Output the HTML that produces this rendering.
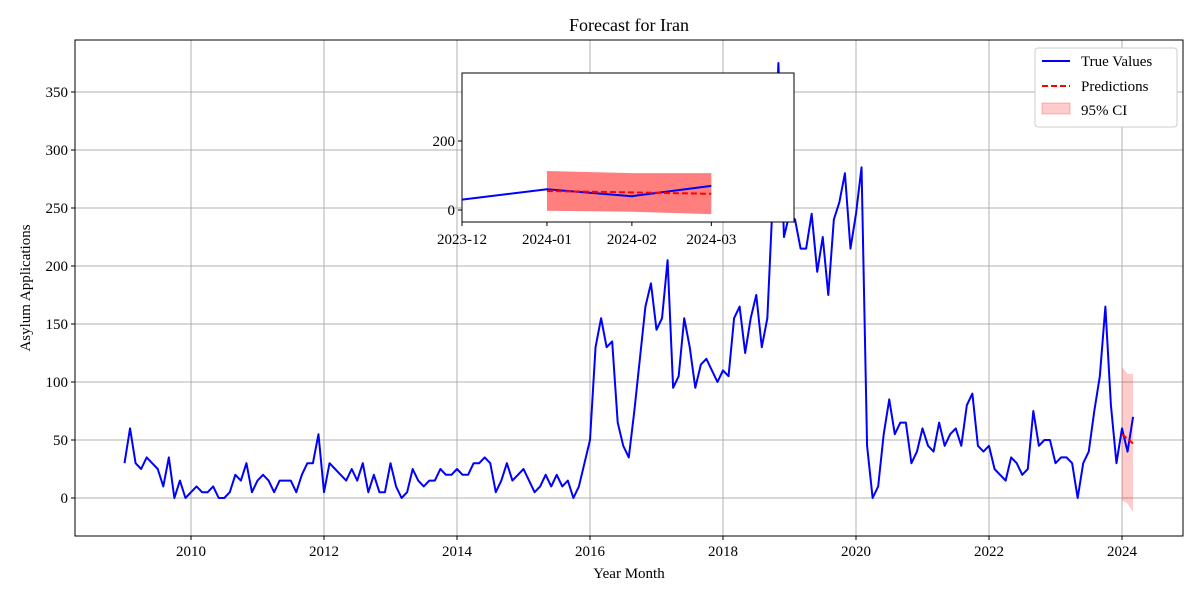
<!DOCTYPE html>
<html><head><meta charset="utf-8"><style>
body{margin:0;background:#fff}
svg{font-family:"Liberation Serif",serif}
</style></head><body>
<svg id="c" width="1200" height="600" xmlns="http://www.w3.org/2000/svg"></svg>
<script>
const startYear = 2009;
const trueValues = [
30,60,30,25,35,30,25,10,35,0,15,0,
5,10,5,5,10,0,0,5,20,15,30,5,
15,20,15,5,15,15,15,5,20,30,30,55,
5,30,25,20,15,25,15,30,5,20,5,5,
30,10,0,5,25,15,10,15,15,25,20,20,
25,20,20,30,30,35,30,5,15,30,15,20,
25,15,5,10,20,10,20,10,15,0,10,30,
50,130,155,130,135,65,45,35,75,120,165,185,
145,155,205,95,105,155,130,95,115,120,110,100,
110,105,155,165,125,155,175,130,155,260,375,225,
245,240,215,215,245,195,225,175,240,255,280,215,
245,285,45,0,10,55,85,55,65,65,30,40,
60,45,40,65,45,55,60,45,80,90,45,40,
45,25,20,15,35,30,20,25,75,45,50,50,
30,35,35,30,0,30,40,75,105,165,80,30,
60,40,70];
const predMonths = [12,13,14]; // months after Dec 2023 index offset: Jan,Feb,Mar 2024
const predictions = [55,51,47];
const ciUpper = [113,107,107];
const ciLower = [-2,-5,-12];
const xTicks = [2010,2012,2014,2016,2018,2020,2022,2024];
const yTicks = [0,50,100,150,200,250,300,350];
const insetXLabels = ["2023-12","2024-01","2024-02","2024-03"];
const insetXDays = [0,31,62,91];
const insetYTicks = [0,200];

const svg=document.getElementById('c');
const NS='http://www.w3.org/2000/svg';
function el(t,a,p){const e=document.createElementNS(NS,t);for(const k in a)e.setAttribute(k,a[k]);(p||svg).appendChild(e);return e;}
const L=75,R=1183,T=40,B=536;
const X=v=>191+(v-2010)*66.5;
const Y=v=>498-v*1.16;
const xi=i=>X(startYear+i/12);

el('rect',{x:0,y:0,width:1200,height:600,fill:'#fff'});
// grid
const g=el('g',{});


xTicks.forEach(t=>{el('line',{x1:X(t),x2:X(t),y1:T,y2:B,stroke:'#b0b0b0','stroke-width':1},g);
 el('line',{x1:X(t),x2:X(t),y1:B,y2:B+4,stroke:'#000'});
 const tx=el('text',{x:X(t),y:B+20,'text-anchor':'middle','font-size':15});tx.textContent=t;
 });
yTicks.forEach(t=>{el('line',{x1:L,x2:R,y1:Y(t),y2:Y(t),stroke:'#b0b0b0','stroke-width':1},g);
 el('line',{x1:L-4,x2:L,y1:Y(t),y2:Y(t),stroke:'#000'});
 const tx=el('text',{x:L-7,y:Y(t)+5,'text-anchor':'end','font-size':15});tx.textContent=t;
 });

// CI
const base=trueValues.length-3;
let ci='';predMonths.forEach((m,k)=>{ci+=(k?'L':'M')+xi(base+k)+','+Y(ciUpper[k]);});
for(let k=predMonths.length-1;k>=0;k--)ci+='L'+xi(base+k)+','+Y(ciLower[k]);
const cip=el('path',{d:ci+'Z',fill:'rgba(255,0,0,0.2)',stroke:'none'});

// true
const tl=el('polyline',{points:trueValues.map((v,i)=>xi(i)+','+Y(v)).join(' '),fill:'none',stroke:'#0000ff','stroke-width':2,'stroke-linejoin':'round'});

const pl=el('polyline',{points:predictions.map((v,k)=>xi(base+k)+','+Y(v)).join(' '),fill:'none',stroke:'#ff0000','stroke-width':2,'stroke-dasharray':'6,3'});


el('rect',{x:L,y:T,width:R-L,height:B-T,fill:'none',stroke:'#000','stroke-width':1});

// inset
const IL=462,IR=794,IT=73,IB=222;
const IX=d=>462+d*2.74;
const IY=v=>210-v*0.345;
const ir=el('rect',{x:IL,y:IT,width:IR-IL,height:IB-IT,fill:'#fff',stroke:'#000','stroke-width':1});

const ig=el('g',{});
let ip='';predictions.forEach((v,k)=>{ip+=(k?'L':'M')+IX(insetXDays[k+1])+','+IY(ciUpper[k]);});
for(let k=predictions.length-1;k>=0;k--)ip+='L'+IX(insetXDays[k+1])+','+IY(ciLower[k]);
const icp=el('path',{d:ip+'Z',fill:'rgba(255,0,0,0.5)'},ig);

const insetTrue=trueValues.slice(-4);
const itl=el('polyline',{points:insetTrue.map((v,k)=>IX(insetXDays[k])+','+IY(v)).join(' '),fill:'none',stroke:'#0000ff','stroke-width':2},ig);

const ipl=el('polyline',{points:predictions.map((v,k)=>IX(insetXDays[k+1])+','+IY(v)).join(' '),fill:'none',stroke:'#ff0000','stroke-width':2,'stroke-dasharray':'6,3'},ig);

insetXLabels.forEach((s,k)=>{const x=IX(insetXDays[k]);el('line',{x1:x,x2:x,y1:IB,y2:IB+4,stroke:'#000'});
 const t=el('text',{x:x,y:IB+22,'text-anchor':'middle','font-size':15});t.textContent=s;
 });
insetYTicks.forEach(v=>{el('line',{x1:IL-4,x2:IL,y1:IY(v),y2:IY(v),stroke:'#000'});
 const t=el('text',{x:IL-7,y:IY(v)+5,'text-anchor':'end','font-size':15});t.textContent=v;
 });

// titles
let t=el('text',{x:629,y:31,'text-anchor':'middle','font-size':18});t.textContent='Forecast for Iran';

t=el('text',{x:629,y:578,'text-anchor':'middle','font-size':15});t.textContent='Year Month';

t=el('text',{x:30,y:288,'text-anchor':'middle','font-size':15,transform:'rotate(-90 30 288)'});t.textContent='Asylum Applications';


// legend
const lg=el('g',{});

el('rect',{x:1035,y:48,width:142,height:79,rx:3,fill:'#fff',stroke:'#ccc'},lg);
el('line',{x1:1042,x2:1070,y1:61,y2:61,stroke:'#0000ff','stroke-width':2},lg);
el('line',{x1:1042,x2:1070,y1:86,y2:86,stroke:'#ff0000','stroke-width':2,'stroke-dasharray':'6,3'},lg);
el('rect',{x:1042,y:103,width:28,height:11,fill:'rgba(255,0,0,0.2)',stroke:'rgba(255,0,0,0.25)'},lg);
[['True Values',66],['Predictions',91],['95% CI',115]].forEach(([s,y])=>{const e=el('text',{x:1081,y:y,'font-size':15},lg);e.textContent=s;
 });
</script>
</body></html>
